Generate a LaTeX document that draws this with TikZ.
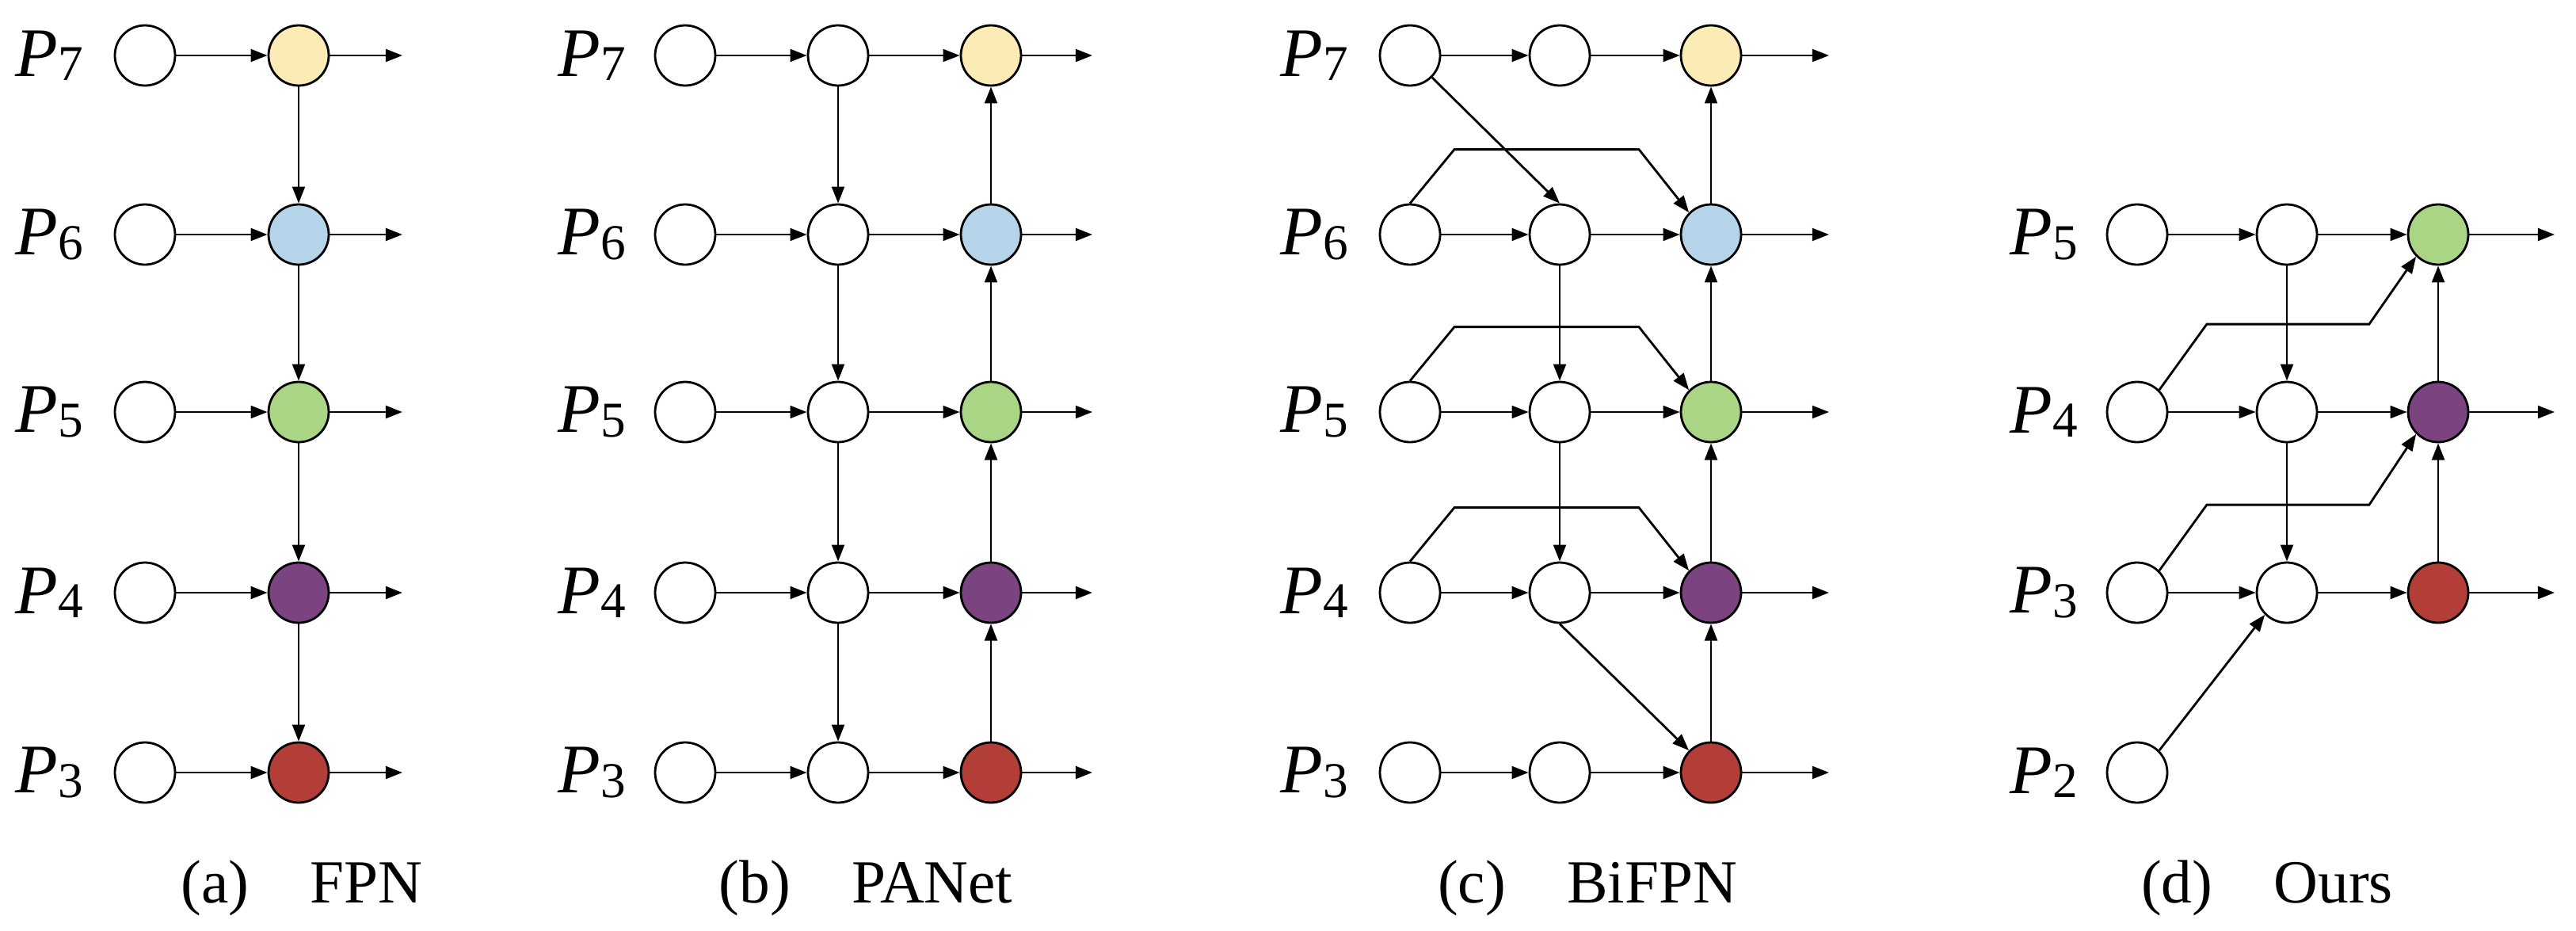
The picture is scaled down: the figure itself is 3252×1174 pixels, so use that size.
\documentclass[tikz,border=0pt]{standalone}
\usepackage{fontspec}
\setmainfont{Liberation Serif}
\usetikzlibrary{arrows.meta}
\definecolor{cY}{HTML}{FBEBB5}
\definecolor{cB}{HTML}{B5D4EA}
\definecolor{cG}{HTML}{A9D585}
\definecolor{cP}{HTML}{7C4381}
\definecolor{cR}{HTML}{B23E37}
\newcommand{\plab}[1]{{\fontsize{50}{56}\selectfont\itshape P}\raisebox{-0.3em}{\fontsize{36}{40}\selectfont #1}}
\begin{document}
\begin{tikzpicture}[x=0.02cm,y=-0.02cm,
  nd/.style={circle,draw,line width=1.6pt,minimum size=76*0.02cm,inner sep=0pt,fill=white},
  ar/.style={line width=1.6pt,-{Triangle[length=12pt,width=9pt]}},
  pl/.style={inner sep=0pt},
  captxt/.style={font=\fontsize{44}{50}\selectfont}]
\useasboundingbox (0,0) rectangle (3252,1174);
\def\ySeven{70}\def\ySix{296}\def\yFive{520}\def\yFour{748}\def\yThree{975}
% ---------- (a) FPN
\foreach \n/\y/\c in {7/\ySeven/cY,6/\ySix/cB,5/\yFive/cG,4/\yFour/cP,3/\yThree/cR}{
  \node[pl] (aL\n) at (62,\y) {\plab{\n}};
  \node[nd] (a1\n) at (183,\y) {};
  \node[nd,fill=\c] (a2\n) at (377,\y) {};
  \coordinate (aE\n) at (508,\y);
  \draw[ar] (a1\n) -- (a2\n);
  \draw[ar] (a2\n) -- (aE\n);
}
\foreach \u/\d in {7/6,6/5,5/4,4/3}{\draw[ar] (a2\u) -- (a2\d);}
\node[captxt] (capa) at (381,1121) {(a)\quad FPN};
% ---------- (b) PANet
\foreach \n/\y/\c in {7/\ySeven/cY,6/\ySix/cB,5/\yFive/cG,4/\yFour/cP,3/\yThree/cR}{
  \node[pl] (bL\n) at (747,\y) {\plab{\n}};
  \node[nd] (b1\n) at (865,\y) {};
  \node[nd] (b2\n) at (1058,\y) {};
  \node[nd,fill=\c] (b3\n) at (1251,\y) {};
  \coordinate (bE\n) at (1379,\y);
  \draw[ar] (b1\n) -- (b2\n);
  \draw[ar] (b2\n) -- (b3\n);
  \draw[ar] (b3\n) -- (bE\n);
}
\foreach \u/\d in {7/6,6/5,5/4,4/3}{\draw[ar] (b2\u) -- (b2\d); \draw[ar] (b3\d) -- (b3\u);}
\node[captxt] (capb) at (1093,1121) {(b)\quad PANet};
% ---------- (c) BiFPN
\foreach \n/\y/\c in {7/\ySeven/cY,6/\ySix/cB,5/\yFive/cG,4/\yFour/cP,3/\yThree/cR}{
  \node[pl] (cL\n) at (1659,\y) {\plab{\n}};
  \node[nd] (c1\n) at (1780,\y) {};
  \node[nd] (c2\n) at (1969,\y) {};
  \node[nd,fill=\c] (c3\n) at (2160,\y) {};
  \coordinate (cE\n) at (2309,\y);
  \draw[ar] (c1\n) -- (c2\n);
  \draw[ar] (c2\n) -- (c3\n);
  \draw[ar] (c3\n) -- (cE\n);
}
\foreach \u/\d in {6/5,5/4}{\draw[ar] (c2\u) -- (c2\d);}
\foreach \u/\d in {7/6,6/5,5/4,4/3}{\draw[ar] (c3\d) -- (c3\u);}
\draw[ar] (c17.south east) -- (c26.north);
\draw[ar] (c24.south) -- (c33.north west);
\foreach \n in {6,5,4}{
  \draw[ar] (c1\n.north) -- ++(56,-68) coordinate (cb\n) -- ++(233,0) coordinate (cc\n) -- (c3\n.north west);
}
\node[captxt] (capc) at (2004,1121) {(c)\quad BiFPN};
% ---------- (d) Ours
\foreach \n/\y/\c in {5/\ySix/cG,4/\yFive/cP,3/\yFour/cR}{
  \node[pl] (dL\n) at (2580,\y) {\plab{\n}};
  \node[nd] (d1\n) at (2698,\y) {};
  \node[nd] (d2\n) at (2887,\y) {};
  \node[nd,fill=\c] (d3\n) at (3078,\y) {};
  \coordinate (dE\n) at (3225,\y);
  \draw[ar] (d1\n) -- (d2\n);
  \draw[ar] (d2\n) -- (d3\n);
  \draw[ar] (d3\n) -- (dE\n);
}
\node[pl] (dL2) at (2580,\yThree) {\plab{2}};
\node[nd] (d12) at (2698,\yThree) {};
\foreach \u/\d in {5/4,4/3}{\draw[ar] (d2\u) -- (d2\d); \draw[ar] (d3\d) -- (d3\u);}
\draw[ar] (d12.north east) -- (d23.south west);
\foreach \l/\h in {4/5,3/4}{
  \draw[ar] (d1\l.north east) -- ++(60,-83) coordinate (db\l) -- ++(205,0) coordinate (dc\l) -- (d3\h.south west);
}
\node[captxt] (capd) at (2862,1121) {(d)\quad Ours};
\end{tikzpicture}
\end{document}
